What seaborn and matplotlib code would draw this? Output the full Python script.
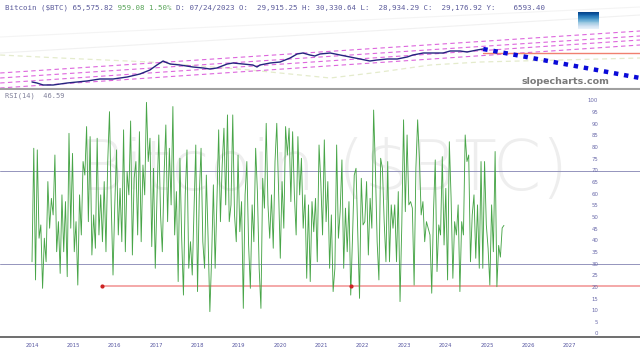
import numpy as np
import pandas as pd
import seaborn as sns
import matplotlib.pyplot as plt

# ---- data ----
header_parts = [
    ("Bitcoin (\\$BTC) 65,575.82 ", "#5c5c9c"),
    ("959.08 1.50% ", "#5aa55a"),
    ("D: 07/24/2023 O:  29,915.25 H: 30,330.64 L:  28,934.29 C:  29,176.92 Y:    6593.40", "#5c5c9c"),
]
rsi_label = "RSI(14)  46.59"
years = list(range(2014, 2028))
rsi_ticks = list(range(0, 101, 5))

# price panel (chart level units, log-ish screen scale)
price_year = [2014.00, 2014.12, 2014.27, 2014.51, 2014.85, 2015.09, 2015.33, 2015.64,
              2015.96, 2016.30, 2016.61, 2016.85, 2017.02, 2017.17, 2017.22, 2017.34,
              2017.58, 2017.89, 2018.14, 2018.30, 2018.47, 2018.72, 2018.86, 2019.10,
              2019.34, 2019.44, 2019.51, 2019.76, 2020.00, 2020.24, 2020.41, 2020.55,
              2020.72, 2020.84, 2020.96, 2021.21, 2021.45, 2021.69, 2021.93, 2022.17,
              2022.34, 2022.59, 2022.83, 2023.07, 2023.21, 2023.46, 2023.70, 2023.94,
              2024.11, 2024.35, 2024.52, 2024.76, 2024.91]
price_level = [7, 6, 4, 4, 6, 7, 8, 10, 10, 12, 15, 19, 24, 28, 27, 25,
               24, 22, 21, 20, 21, 25, 26, 25, 24, 22, 24, 26, 27, 31, 35, 36,
               34, 33, 35, 36, 34, 32, 30, 28, 29, 30, 30, 32, 34, 36, 36, 36,
               38, 38, 37, 39, 40]
proj_year = [2024.91, 2028.70]
proj_level = [40, 11]
support_level = 36
channel_left = [16, 11, 6, 1]
channel_right = [58, 53, 49, 44]
edge_years = [2013.23, 2028.70]
ma_year = [2013.23, 2014.68, 2016.85, 2019.27, 2020.48, 2021.21, 2022.42, 2023.63, 2024.84, 2028.70]
ma_level = [34, 31, 27, 19, 14, 11, 17, 24, 27, 31]

# RSI(14) series
rsi_values = [
    31.0, 79.7, 23.2, 79.0, 41.1, 46.8, 19.6, 41.1, 31.0, 65.4, 45.4, 58.2, 51.1, 76.8,
    35.3, 48.2, 26.0, 59.7, 35.3, 56.8, 24.6, 86.1, 45.4, 77.5, 35.3, 48.2, 21.0, 59.7,
    42.5, 74.0, 68.2, 89.0, 48.2, 84.7, 33.9, 51.1, 36.8, 84.0, 42.5, 59.7, 39.6, 65.4,
    35.3, 74.0, 95.4, 55.4, 25.3, 55.4, 79.0, 42.5, 62.5, 39.6, 87.6, 35.3, 69.7, 59.7,
    91.4, 33.9, 66.8, 74.0, 42.5, 86.8, 39.6, 72.5, 59.7, 99.4, 74.0, 84.0, 37.5, 71.1,
    28.2, 59.7,
    85.4, 51.1, 35.3, 68.2, 89.7, 48.2, 79.7, 55.4, 97.6, 42.5, 61.1, 22.5, 75.4, 41.1,
    16.7, 59.7, 79.0, 28.2, 39.6, 25.3, 54.0, 81.1, 18.2, 59.7, 79.7, 39.6, 28.2, 68.2,
    41.1, 9.6, 32.5, 64.0, 28.2, 56.8, 87.6, 48.2, 72.5, 88.3, 55.4, 94.0, 48.2, 55.4,
    94.0, 51.1, 39.6, 76.8, 43.9, 56.8, 11.0, 59.7, 74.0, 38.2, 19.6, 55.4, 39.6, 79.7,
    61.1, 28.2, 11.0, 66.8, 54.0, 90.4, 55.4, 41.1, 59.7,
    36.8, 74.0, 90.4, 62.5, 32.5, 65.4, 45.4, 89.0, 76.8, 88.3, 56.8, 86.8, 59.7, 42.5,
    84.7, 59.7, 75.4, 45.4, 59.7, 23.9, 55.4, 22.5, 56.8, 43.9, 58.2, 31.0, 81.1, 65.4,
    42.5, 83.3, 48.2, 65.4, 28.2, 51.1, 18.2, 28.2, 81.1, 41.1, 52.5, 74.7, 28.2, 54.0,
    35.3, 56.8, 16.7, 41.1, 68.2, 71.1, 42.5, 15.3, 66.8, 46.8, 48.2, 65.4, 33.9, 58.2,
    45.4, 96.1, 71.1, 39.6, 23.2, 75.4, 71.1, 48.2, 31.0,
    74.0, 31.0, 55.4, 45.4, 55.4, 31.0, 61.1, 13.9, 46.8, 91.9, 52.5, 85.4, 55.4, 56.8,
    54.0, 21.0, 71.1, 91.9, 75.4, 51.1, 56.8, 39.6, 48.2, 45.4, 42.5, 17.5, 52.5, 74.7,
    26.8, 46.8, 42.5, 76.1, 38.2, 62.5, 23.2, 82.5, 58.2, 23.9, 48.2, 42.5, 55.4, 18.2,
    48.2, 42.5, 85.4, 74.0, 76.8, 31.0, 51.1, 59.7, 32.5, 55.4, 28.2, 74.0, 28.2, 74.0,
    46.8, 36.8, 21.0, 55.4, 35.3, 78.3, 20.3, 38.0, 33.0, 45.5, 46.6,
]
rsi_start, rsi_end = 2014.0, 2025.41
support_rsi = 20.6
support_start = 2015.70
support_dots = [2015.70, 2021.72]

# ---- figure ----
sns.set_style("white")
plt.rcParams["font.family"] = ["DejaVu Sans"]

X0, X1 = 2013.226, 2028.70
fig = plt.figure(figsize=(6.4, 3.56), dpi=100)
ax_p = fig.add_axes([0, 1 - 89 / 356, 1, 89 / 356])
ax_r = fig.add_axes([0, 19 / 356, 1, 247 / 356])

# price panel
ax_p.plot(edge_years, [36, 74], color="#f1f1f1", lw=0.8)
ax_p.plot(edge_years, [52, 82], color="#f4f4f4", lw=0.8)
ax_p.plot(ma_year, ma_level, color="#e4ebcc", lw=0.9, dashes=(4, 3))
for lo, hi in zip(channel_left, channel_right):
    ax_p.plot(edge_years, [lo, hi], color="#dd66dd", lw=0.8, dashes=(4, 3))
sns.lineplot(x=price_year, y=price_level, ax=ax_p, color="#24247e", lw=1.0,
             estimator=None, sort=False)
ax_p.plot([proj_year[0], X1], [support_level, support_level], color="#f08070", lw=1.0)
ax_p.plot(proj_year, proj_level, color="#0a0ad8", lw=3.2,
          linestyle=(0, (1, 1.3)), solid_capstyle="butt", dash_capstyle="butt")
grad = np.linspace(0, 1, 12).reshape(-1, 1)
ax_p.imshow(grad, cmap="Blues", extent=[2027.20, 2027.69, 60, 77], aspect="auto",
            vmin=-0.1, vmax=1.1, origin="lower", zorder=3)
ax_p.text(2026.89, 7, "slopecharts.com", fontsize=6.8, fontweight="bold",
          color="#7a7a7a", ha="center", va="center")
ax_p.set_xlim(X0, X1)
ax_p.set_ylim(0, 89)
ax_p.set_xticks([])
ax_p.set_yticks([])
ax_p.set_xlabel("")
ax_p.set_ylabel("")
for s in ["top", "left", "right"]:
    ax_p.spines[s].set_visible(False)
ax_p.spines["bottom"].set_color("#a0a0a0")
ax_p.spines["bottom"].set_linewidth(1.5)

# header text, two colours overlaid in a monospace font
for i, (part, col) in enumerate(header_parts):
    masked = "".join(p if j == i else " " * len(p.replace("\\$", "$"))
                     for j, (p, _) in enumerate(header_parts))
    fig.text(5 / 640, 1 - 8 / 356, masked, fontsize=5.4, color=col,
             family="DejaVu Sans Mono", ha="left", va="center")

# RSI panel
ax_r.text(2021.05, 70, "Bitcoin (\\$BTC)", fontsize=50, color="#eeeeee",
          ha="center", va="center", fontweight="light", zorder=0)
ax_r.axhline(70, color="#9494bc", lw=0.7)
ax_r.axhline(30, color="#9494bc", lw=0.7)
ax_r.plot([support_start, X1], [support_rsi, support_rsi], color="#f29a9a", lw=1.2)
rsi_year = np.linspace(rsi_start, rsi_end, len(rsi_values))
sns.lineplot(x=rsi_year, y=rsi_values, ax=ax_r, color="#48a548", lw=0.65,
             estimator=None, sort=False)
ax_r.scatter(support_dots, [support_rsi] * 2, s=4, color="#cc2222", zorder=4)
fig.text(5 / 640, 1 - 96 / 356, rsi_label, fontsize=5.0, color="#80809a",
         family="DejaVu Sans Mono", ha="left", va="center")
for t in rsi_ticks:
    ax_r.text(2027.69, t, str(t), fontsize=3.9, color="#6b6bab", ha="right", va="center")

ax_r.set_xlim(X0, X1)
ax_r.set_ylim(-1.29, 104.7)
ax_r.set_xticks(years)
ax_r.set_xticklabels([str(y) for y in years])
ax_r.set_yticks([])
ax_r.set_xlabel("")
ax_r.set_ylabel("")
ax_r.tick_params(axis="x", length=0, labelsize=3.8, labelcolor="#5555a0", pad=4)
for s in ["top", "left", "right"]:
    ax_r.spines[s].set_visible(False)
ax_r.spines["bottom"].set_color("#555555")
ax_r.spines["bottom"].set_linewidth(1.2)

fig.savefig("out.png", dpi=100)
